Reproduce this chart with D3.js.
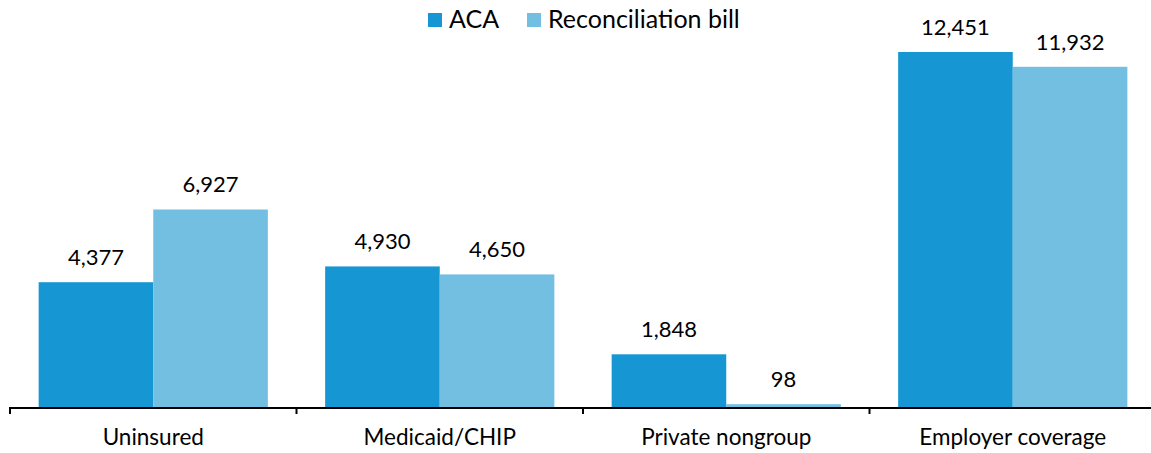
<!DOCTYPE html>
<html>
<head>
<meta charset="utf-8">
<script src="https://d3js.org/d3.v7.min.js"></script>
<style>
  body { margin: 0; background: #fff; }
  text { font-family: Lato, "Open Sans", sans-serif; fill: #000; }
</style>
</head>
<body>
<div id="chart"></div>
<script>
const categories = ['Uninsured', 'Medicaid/CHIP', 'Private nongroup', 'Employer coverage'];
const seriesNames = ['ACA', 'Reconciliation bill'];
const acaValues = [4377, 4930, 1848, 12451];
const reconValues = [6927, 4650, 98, 11932];
const colors = ['#1696d2', '#73bfe2'];

const W = 1151, H = 453;
const baseY = 407;

const data = categories.map((c, i) => ({ category: c, values: [acaValues[i], reconValues[i]] }));

const svg = d3.select('#chart')
  .append('svg')
  .attr('width', W)
  .attr('height', H);

const x = d3.scaleBand().domain(categories).range([10, 1156]).paddingInner(0.2).paddingOuter(0.1);
const xSub = d3.scaleBand().domain(seriesNames).range([0, x.bandwidth()]);
const y = d3.scaleLinear().domain([0, 12451]).range([baseY, 52]);

const groups = svg.selectAll('.group')
  .data(data)
  .enter()
  .append('g')
  .attr('transform', d => `translate(${x(d.category)},0)`);

groups.selectAll('rect')
  .data(d => d.values.map((v, i) => ({ key: seriesNames[i], value: v, idx: i })))
  .enter()
  .append('rect')
  .attr('x', d => xSub(d.key))
  .attr('width', xSub.bandwidth())
  .attr('y', d => y(d.value))
  .attr('height', d => baseY - y(d.value))
  .attr('fill', d => colors[d.idx]);

groups.selectAll('.label')
  .data(d => d.values.map((v, i) => ({ key: seriesNames[i], value: v })))
  .enter()
  .append('text')
  .attr('x', d => xSub(d.key) + xSub.bandwidth() / 2)
  .attr('y', d => y(d.value) - 17)
  .attr('text-anchor', 'middle')
  .style('font-size', '22px')
  .text(d => d3.format(',')(d.value));

// x axis: tick marks at band boundaries
const boundaries = categories.map(c => x(c) - x.step() * x.paddingInner() / 2);
svg.append('line')
  .attr('x1', 10).attr('x2', W)
  .attr('y1', baseY + 1).attr('y2', baseY + 1)
  .attr('stroke', '#000').attr('stroke-width', 2);
svg.selectAll('.tick')
  .data(boundaries)
  .enter()
  .append('line')
  .attr('x1', d => d).attr('x2', d => d)
  .attr('y1', baseY).attr('y2', baseY + 7)
  .attr('stroke', '#000').attr('stroke-width', 2);

svg.selectAll('.catlabel')
  .data(categories)
  .enter()
  .append('text')
  .attr('x', d => x(d) + x.bandwidth() / 2)
  .attr('y', 445)
  .attr('text-anchor', 'middle')
  .style('font-size', '22.5px')
  .text(d => d);

// legend
const legend = svg.append('g');
const legendX = [428, 527];
seriesNames.forEach((s, i) => {
  legend.append('rect')
    .attr('x', legendX[i]).attr('y', 13)
    .attr('width', 14).attr('height', 14)
    .attr('fill', colors[i]);
  legend.append('text')
    .attr('x', legendX[i] + 21).attr('y', 28)
    .style('font-size', '25px')
    .text(s);
});
</script>
</body>
</html>
